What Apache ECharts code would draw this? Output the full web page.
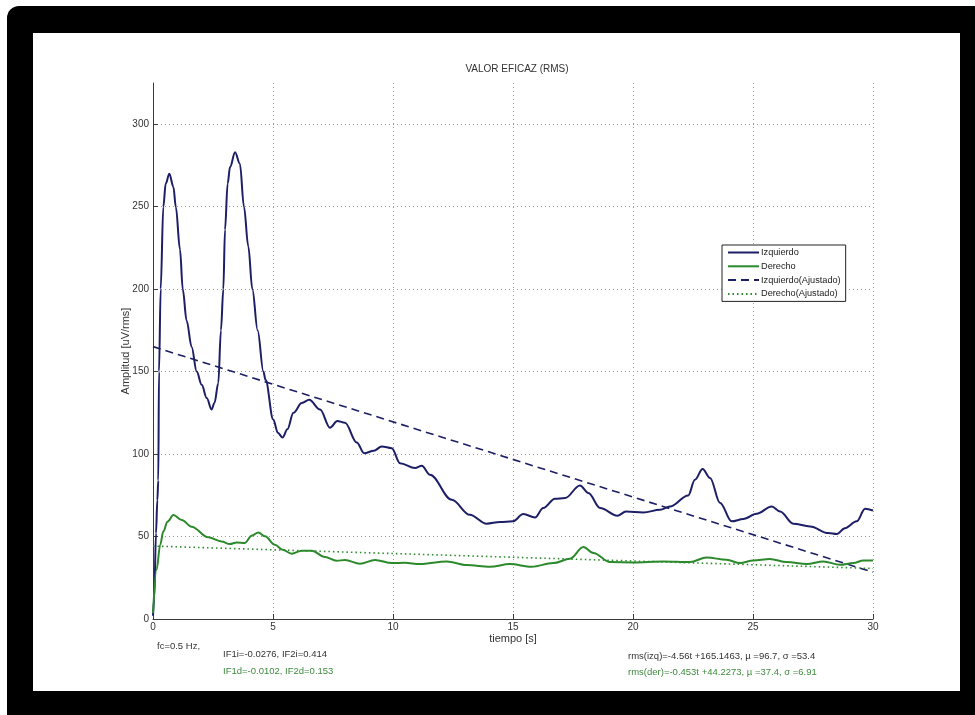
<!DOCTYPE html>
<html>
<head>
<meta charset="utf-8">
<script src="https://cdn.jsdelivr.net/npm/echarts@6/dist/echarts.min.js"></script>
<style>
  html, body { margin: 0; padding: 0; background: #ffffff; }
  #chart { width: 975px; height: 715px; }
</style>
</head>
<body>
<div id="chart"></div>
<script>
// Left-side RMS envelope (Izquierdo): time [s] and amplitude [uV/rms]
const izqT = [0, 0.05, 0.125, 0.18, 0.22, 0.25, 0.32, 0.43, 0.53, 0.68, 0.85, 0.95, 1.125, 1.24, 1.40, 1.61, 1.82, 2.03, 2.24, 2.44, 2.56, 2.72, 2.83, 2.93, 3.0, 3.11, 3.21, 3.42, 3.62, 3.79, 3.97, 4.14, 4.36, 4.6, 4.69, 5.01, 5.2, 5.4, 5.6, 5.85, 6.2, 6.51, 6.96, 7.375, 7.68, 8.0, 8.49, 8.8, 9.2, 9.53, 9.95, 10.29, 10.92, 11.2, 11.54, 12.45, 13.2, 13.9, 14.46, 14.99, 15.43, 15.92, 16.26, 16.75, 17.17, 17.79, 18.14, 18.63, 19.35, 19.71, 20.43, 21.13, 21.54, 22.3, 22.58, 22.9, 23.21, 23.63, 24.11, 24.6, 25.15, 25.78, 26.13, 26.68, 27.38, 28.14, 28.49, 28.83, 29.32, 29.67, 30];
const izqV = [2, 12, 52, 72, 84, 150, 200, 250, 264, 270, 262, 250, 224, 200, 181, 165, 150, 142, 134, 127, 131, 143, 175, 200, 236, 264, 274, 283, 276, 250, 226, 200, 175, 150, 145, 121, 113, 110, 115, 125, 131, 133, 127, 116, 120, 119, 107, 100.5, 102, 104.6, 103.6, 94.5, 91.5, 92.9, 87.5, 72.3, 63.2, 57.8, 58.8, 59.2, 63.6, 61.6, 67.3, 72.9, 73.3, 81, 76.4, 67.3, 62.6, 65.2, 64.6, 66.2, 68.2, 74.9, 84.4, 90.9, 85.5, 70.3, 59.2, 60.6, 63.8, 68.2, 65.2, 57.8, 56.1, 52.1, 51.5, 55.1, 59.2, 66.8, 65.8];

// Right-side RMS envelope (Derecho)
const derT = [0, 0.15, 0.3, 0.43, 0.6, 0.85, 1.2, 1.61, 2.3, 2.86, 3.2, 3.49, 3.83, 4.11, 4.39, 4.67, 5.08, 5.4, 5.78, 6.2, 6.61, 7.17, 7.65, 8.0, 8.625, 9.25, 9.95, 10.5, 11.1, 12.24, 13.07, 14.04, 14.87, 15.78, 16.68, 17.375, 17.93, 18.35, 19.04, 20.01, 21.26, 22.375, 23.07, 23.9, 24.46, 25.01, 25.7, 26.4, 27.24, 27.93, 28.625, 29.18, 29.6, 30];
const derV = [3.6, 30, 45, 53, 59, 63, 60, 56, 49.5, 47, 45.4, 46.4, 46.1, 50.5, 52.5, 50.1, 45, 42, 39.6, 41.4, 41.4, 37.6, 35.3, 35.8, 33.5, 35.8, 33.9, 34.1, 33.3, 34.9, 32.7, 31.7, 33.3, 31.7, 33.9, 36.5, 43.6, 40, 34.5, 34.3, 34.9, 34.5, 37.3, 35.9, 33.9, 35.5, 36.4, 34.5, 33.3, 34.9, 32.9, 33.9, 35.5, 35.5];

// Linear fits rms(t) = slope*t + intercept, with mean and std of each envelope
const fitSlope = [-4.56, -0.453];
const fitIntercept = [165.1463, 44.2273];
const fitMean = [96.7, 37.4];
const fitStd = [53.4, 6.91];
const fitSpan = [0, 30];

// Filter parameters
const cutoffHz = 0.5;
const ifIzq = [-0.0276, 0.414];
const ifDer = [-0.0102, 0.153];

const seriesNames = ['Izquierdo', 'Derecho', 'Izquierdo(Ajustado)', 'Derecho(Ajustado)'];
const xTicks = [0, 30, 5];
const yRange = [0, 325];
const yTickValues = [0, 50, 100, 150, 200, 250, 300];

const navy = '#1d1f66';
const green = '#2c8a2c';
const greenText = '#3f8a3f';
const font = 'Liberation Sans, Arial, sans-serif';

const zip = (t, v) => t.map((x, i) => [x, v[i]]);
const fitLine = (k) => fitSpan.map(t => [t, fitSlope[k] * t + fitIntercept[k]]);

// Dotted horizontal grid and inward y ticks, drawn only at the labelled values
const gridStyle = { color: '#9a9a9a', width: 1, type: [1, 3] };
const tickStyle = { color: '#3a3a3a', width: 1, type: 'solid' };
const yGuides = [];
yTickValues.forEach(v => {
  if (v > yRange[0]) yGuides.push({ yAxis: v, lineStyle: gridStyle });
  yGuides.push([{ coord: [xTicks[0], v], lineStyle: tickStyle }, { coord: [xTicks[0] + 0.21, v] }]);
});

const chart = echarts.init(document.getElementById('chart'), null, { renderer: 'canvas' });

const labelStyle = { color: '#333', fontSize: 10, fontFamily: font };
const nameStyle = { color: '#333', fontSize: 11, fontFamily: font };

chart.setOption({
  backgroundColor: '#ffffff',
  animation: false,
  title: {
    text: 'VALOR EFICAZ (RMS)',
    left: 512, top: 59, textAlign: 'center',
    textStyle: { fontSize: 10, fontWeight: 'normal', color: '#333', fontFamily: font }
  },
  grid: { left: 153, right: 102, top: 83, bottom: 96, containLabel: false },
  xAxis: {
    type: 'value', min: xTicks[0], max: xTicks[1], interval: xTicks[2],
    name: 'tiempo [s]', nameLocation: 'middle', nameGap: 14, nameMoveOverlap: false,
    nameTextStyle: nameStyle,
    axisLine: { show: true, lineStyle: { color: '#3a3a3a', width: 1 } },
    axisTick: { show: true, inside: true, length: 5, lineStyle: { color: '#3a3a3a' } },
    axisLabel: Object.assign({}, labelStyle, { margin: 3 }),
    splitLine: { show: true, lineStyle: gridStyle }
  },
  yAxis: {
    type: 'value', min: yRange[0], max: yRange[1], interval: 50,
    name: 'Amplitud [uV/rms]', nameLocation: 'middle', nameGap: 22, nameMoveOverlap: false,
    nameTextStyle: nameStyle,
    axisLine: { show: true, lineStyle: { color: '#3a3a3a', width: 1 } },
    axisTick: { show: false },
    axisLabel: Object.assign({}, labelStyle, {
      margin: 4,
      formatter: v => (yTickValues.indexOf(v) >= 0 ? String(v) : '')
    }),
    splitLine: { show: false }
  },
  legend: {
    orient: 'vertical', left: 722, top: 245,
    padding: [3, 5, 3, 5],
    itemWidth: 31, itemHeight: 10, itemGap: 4.8,
    itemStyle: { opacity: 0 },
    backgroundColor: '#ffffff', borderColor: '#222', borderWidth: 1,
    textStyle: { fontSize: 9.2, color: '#222', fontFamily: font, padding: [0, 0, 0, -3] },
    data: seriesNames.map(n => ({ name: n }))
  },
  graphic: [
    { type: 'rect', z: -100, silent: true, shape: { x: 7, y: 6, width: 1010, height: 760, r: 12 }, style: { fill: '#000' } },
    { type: 'rect', z: -99, silent: true, shape: { x: 33, y: 33, width: 927, height: 658 }, style: { fill: '#fff' } },
    { type: 'text', z: 10, left: 157, top: 641,
      style: { text: 'fc=' + cutoffHz + ' Hz,', fill: '#333', fontSize: 9.5, fontFamily: font } },
    { type: 'text', z: 10, left: 223, top: 649,
      style: { text: 'IF1i=' + ifIzq[0] + ', IF2i=' + ifIzq[1], fill: '#333', fontSize: 9.5, fontFamily: font } },
    { type: 'text', z: 10, left: 223, top: 666,
      style: { text: 'IF1d=' + ifDer[0] + ', IF2d=' + ifDer[1], fill: greenText, fontSize: 9.5, fontFamily: font } },
    { type: 'text', z: 10, left: 628, top: 651,
      style: { text: 'rms(izq)=' + fitSlope[0] + 't +' + fitIntercept[0] + ', \u00b5 =' + fitMean[0] + ', \u03c3 =' + fitStd[0], fill: '#333', fontSize: 9.5, fontFamily: font } },
    { type: 'text', z: 10, left: 628, top: 667,
      style: { text: 'rms(der)=' + fitSlope[1] + 't +' + fitIntercept[1] + ', \u00b5 =' + fitMean[1] + ', \u03c3 =' + fitStd[1], fill: greenText, fontSize: 9.5, fontFamily: font } }
  ],
  series: [
    {
      name: seriesNames[0], type: 'line', data: zip(izqT, izqV),
      symbol: 'none', smooth: 0.35, smoothMonotone: 'x',
      lineStyle: { color: navy, width: 2 }, itemStyle: { color: navy }, z: 4
    },
    {
      name: seriesNames[1], type: 'line', data: zip(derT, derV),
      symbol: 'none', smooth: 0.35, smoothMonotone: 'x',
      lineStyle: { color: green, width: 2 }, itemStyle: { color: green }, z: 4
    },
    {
      name: seriesNames[2], type: 'line', data: fitLine(0),
      symbol: 'none',
      lineStyle: { color: navy, width: 1.6, type: [8, 5] }, itemStyle: { color: navy }, z: 3,
      markLine: {
        silent: true, symbol: ['none', 'none'], z: 1, animation: false,
        label: { show: false }, emphasis: { disabled: true },
        data: yGuides
      }
    },
    {
      name: seriesNames[3], type: 'line', data: fitLine(1),
      symbol: 'none',
      lineStyle: { color: green, width: 1.6, type: [1.5, 3] }, itemStyle: { color: green }, z: 3
    }
  ]
});
</script>
</body>
</html>
